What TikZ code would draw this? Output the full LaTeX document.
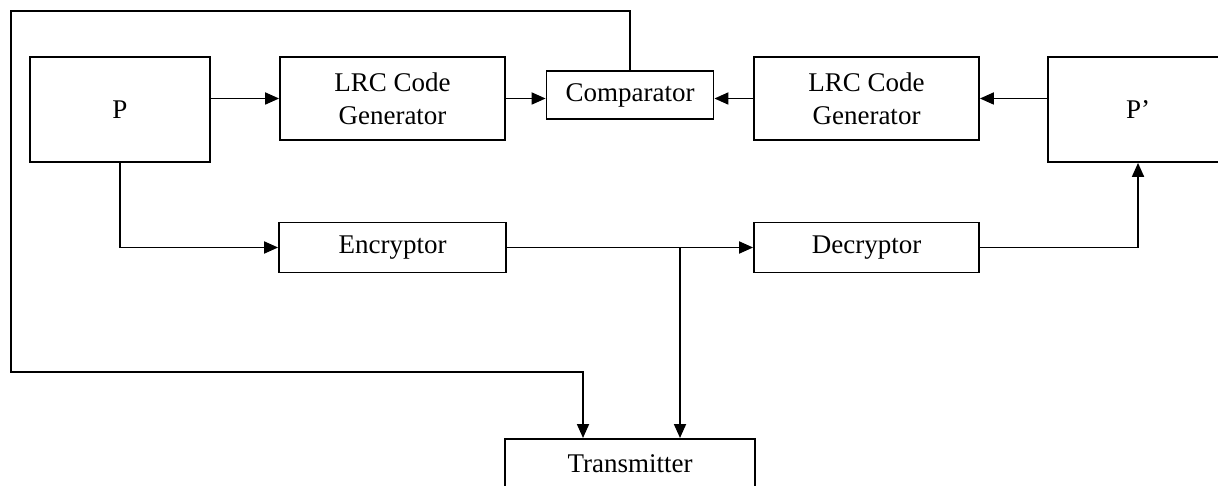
\documentclass[tikz,border=0pt]{standalone}
\usepackage{fontspec}
\setmainfont{Liberation Serif}
\usetikzlibrary{arrows.meta,positioning}
\tikzset{
  flow/.style={-{Triangle[length=7pt,width=6pt]},black,line width=0.9pt},
  blockbox/.style={draw=black,line width=0.9pt,fill=white,align=center,
                   inner sep=0pt,font=\fontsize{13.5}{16.5}\selectfont},
}

\begin{document}
\begin{tikzpicture}[x=0.5pt,y=-0.5pt]
    \useasboundingbox (0,0) rectangle (1218,486);

    % sender side
    \node[blockbox,minimum width=90pt,minimum height=52.5pt] (pA) at (120,109.5) {P};
    \node[blockbox,minimum width=112.5pt,minimum height=41.5pt] (lrcA) at (392.5,98.5) {LRC Code\\Generator};
    \node[blockbox,minimum width=113.5pt,minimum height=25pt] (enc) at (392.5,247.5) {Encryptor};

    % comparator in the middle
    \node[blockbox,minimum width=83.5pt,minimum height=24pt] (cmp) at (630,95) {Comparator};

    % receiver side
    \node[blockbox,minimum width=112.5pt,minimum height=41.5pt] (lrcB) at (866.5,98.5) {LRC Code\\Generator};
    \node[blockbox,minimum width=90pt,minimum height=52.5pt] (pB) at (1138,109.5) {P’};
    \node[blockbox,minimum width=112.5pt,minimum height=25pt] (dec) at (866.5,247.5) {Decryptor};

    \node[blockbox,minimum width=125pt,minimum height=25pt,anchor=north] (tx) at (630,438) {Transmitter};

    \coordinate (split) at (680,247.5);
    \coordinate (txIn) at (583,438);

    % upper row
    \draw[flow] (pA.east |- lrcA.west) -- (lrcA.west);
    \draw[flow] (lrcA.east) -- (lrcA.east -| cmp.west);
    \draw[flow] (pB.west |- lrcB.east) -- (lrcB.east);
    \draw[flow] (lrcB.west) -- (lrcB.west -| cmp.east);

    % lower row
    \draw[flow] (pA.south) |- (enc.west);
    \draw[flow] (enc.east) -- (dec.west);
    \draw[flow] (dec.east) -| (pB.south);
    \draw[flow] (split) -- (split |- tx.north);

    % comparator result back round to the transmitter
    \draw[flow] (cmp.north) |- (11,11) -- (11,372) -| (txIn);
\end{tikzpicture}
\end{document}
